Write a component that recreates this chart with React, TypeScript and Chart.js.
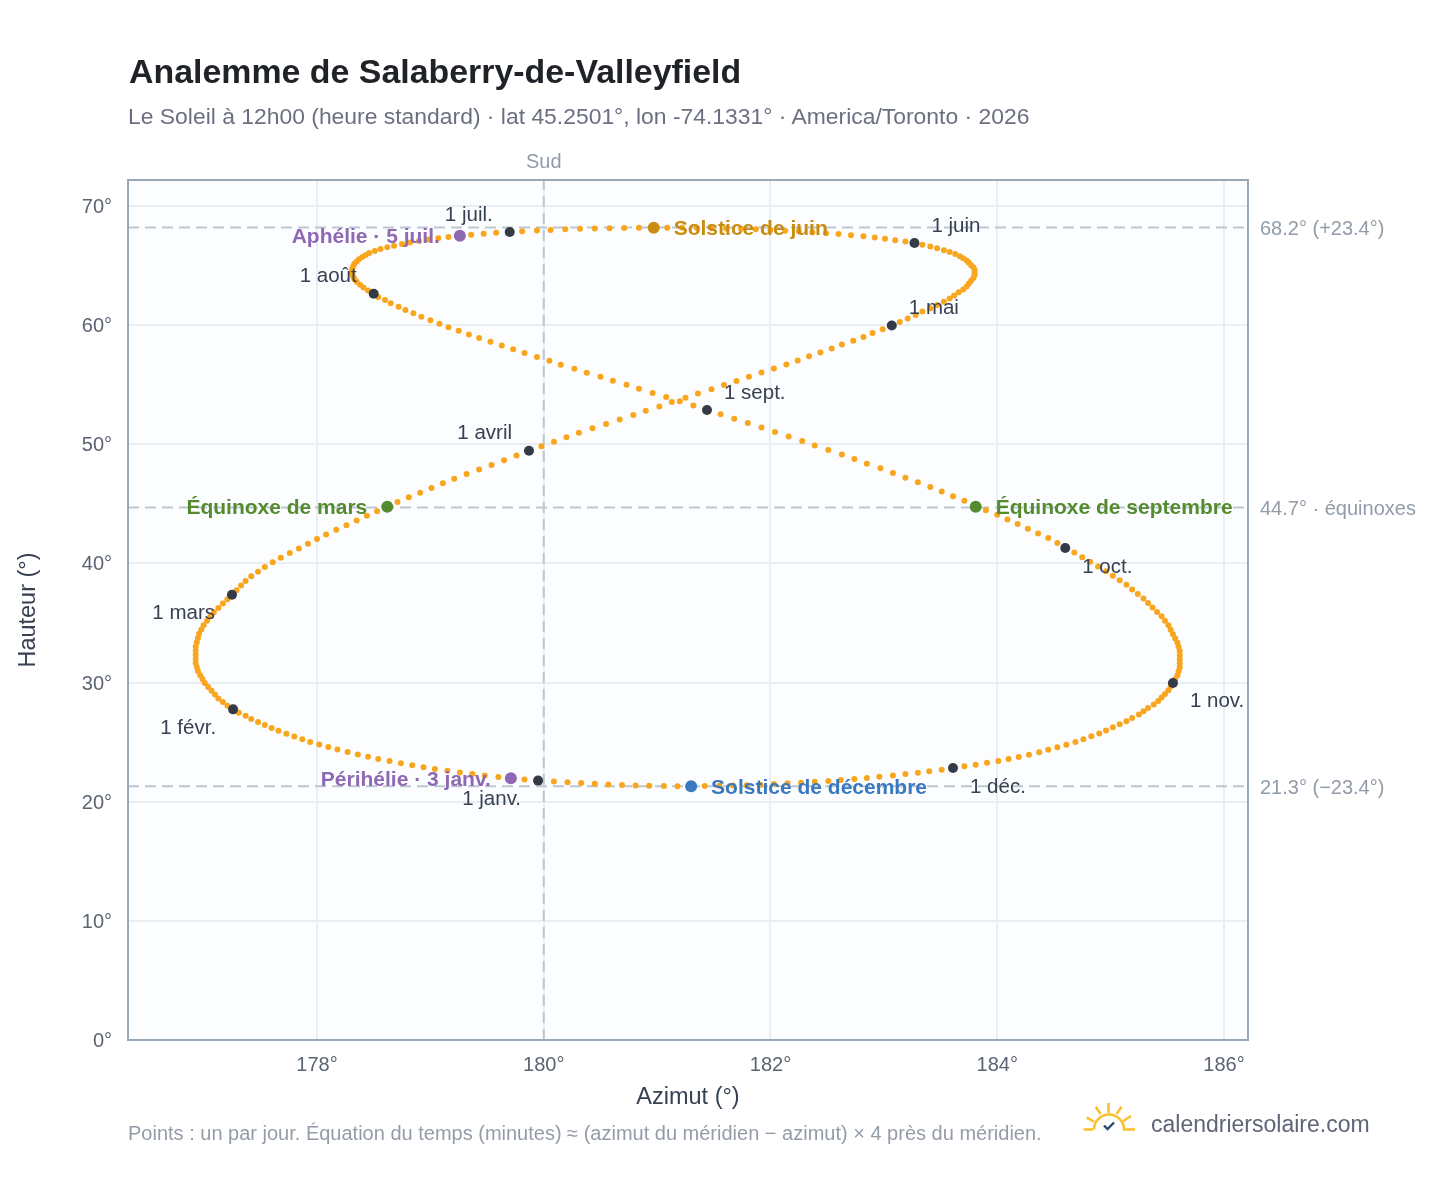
import React, { useEffect, useRef } from "react";
import { Chart, registerables } from "chart.js";

Chart.register(...registerables);

// Daily solar position at 12h00: azimuth (deg) per month
const azJan = [179.95,179.83,179.71,179.60,179.48,179.37,179.26,179.15,179.04,178.94,178.84,178.74,178.64,178.54,178.45,178.36,178.27,178.18,178.10,178.02,177.94,177.87,177.80,177.73,177.66,177.60,177.54,177.48,177.42,177.37,177.31];
const azFeb = [177.26,177.21,177.17,177.13,177.10,177.07,177.04,177.01,176.99,176.97,176.95,176.94,176.93,176.93,176.93,176.93,176.93,176.94,176.95,176.96,176.98,177.00,177.03,177.06,177.09,177.13,177.17,177.21];
const azMar = [177.25,177.29,177.33,177.37,177.42,177.48,177.54,177.61,177.68,177.76,177.84,177.92,178.00,178.08,178.17,178.26,178.35,178.44,178.53,178.62,178.71,178.81,178.91,179.01,179.11,179.21,179.32,179.43,179.54,179.65,179.76];
const azApr = [179.87,179.98,180.09,180.20,180.31,180.43,180.55,180.67,180.79,180.90,181.02,181.13,181.25,181.36,181.48,181.59,181.70,181.81,181.92,182.03,182.14,182.24,182.34,182.44,182.54,182.63,182.73,182.82,182.90,182.99];
const azMay = [183.07,183.14,183.21,183.28,183.34,183.41,183.47,183.53,183.58,183.62,183.66,183.70,183.73,183.75,183.77,183.79,183.80,183.80,183.80,183.79,183.77,183.75,183.73,183.70,183.67,183.63,183.58,183.53,183.47,183.41,183.34];
const azJun = [183.27,183.19,183.10,183.01,182.92,182.82,182.71,182.60,182.49,182.37,182.25,182.13,182.00,181.87,181.74,181.61,181.48,181.35,181.22,181.09,180.97,180.84,180.71,180.58,180.45,180.32,180.19,180.06,179.94,179.81];
const azJul = [179.70,179.58,179.47,179.36,179.26,179.16,179.07,178.98,178.90,178.82,178.75,178.68,178.62,178.56,178.51,178.46,178.43,178.40,178.37,178.35,178.33,178.32,178.31,178.31,178.31,178.32,178.33,178.35,178.38,178.41,178.45];
const azAug = [178.50,178.54,178.60,178.65,178.72,178.78,178.85,178.92,179.00,179.08,179.16,179.25,179.34,179.43,179.53,179.63,179.73,179.83,179.94,180.05,180.15,180.27,180.38,180.50,180.61,180.73,180.84,180.96,181.08,181.20,181.32];
const azSep = [181.44,181.56,181.68,181.80,181.92,182.04,182.16,182.28,182.39,182.51,182.63,182.74,182.85,182.97,183.08,183.19,183.30,183.41,183.51,183.61,183.71,183.81,183.90,184.00,184.09,184.18,184.27,184.36,184.45,184.53];
const azOct = [184.60,184.68,184.75,184.82,184.89,184.96,185.02,185.08,185.14,185.19,185.24,185.29,185.33,185.37,185.41,185.45,185.48,185.51,185.53,185.55,185.57,185.59,185.60,185.61,185.61,185.61,185.61,185.61,185.60,185.59,185.57];
const azNov = [185.55,185.53,185.51,185.48,185.45,185.42,185.38,185.33,185.29,185.25,185.19,185.14,185.08,185.02,184.96,184.90,184.83,184.76,184.69,184.61,184.53,184.45,184.37,184.28,184.19,184.10,184.01,183.91,183.81,183.71];
const azDec = [183.61,183.51,183.40,183.30,183.19,183.08,182.96,182.85,182.74,182.62,182.51,182.39,182.27,182.15,182.03,181.91,181.79,181.67,181.55,181.42,181.30,181.18,181.06,180.93,180.81,180.69,180.57,180.45,180.33,180.21,180.09];

// Altitude (deg) per month
const altJan = [21.77,21.86,21.96,22.07,22.19,22.32,22.45,22.59,22.74,22.90,23.06,23.23,23.41,23.59,23.78,23.97,24.17,24.38,24.59,24.80,25.02,25.25,25.48,25.71,25.95,26.19,26.44,26.69,26.95,27.21,27.47];
const altFeb = [27.75,28.05,28.36,28.67,28.99,29.31,29.63,29.96,30.29,30.62,30.96,31.30,31.64,31.98,32.33,32.68,33.03,33.38,33.74,34.10,34.46,34.82,35.18,35.54,35.90,36.26,36.63,37.00];
const altMar = [37.37,37.75,38.14,38.53,38.92,39.31,39.70,40.09,40.48,40.87,41.26,41.65,42.04,42.43,42.82,43.21,43.60,43.99,44.38,44.77,45.16,45.55,45.94,46.33,46.72,47.11,47.50,47.88,48.27,48.65,49.05];
const altApr = [49.45,49.83,50.21,50.59,50.97,51.34,51.71,52.08,52.45,52.82,53.18,53.54,53.90,54.26,54.62,54.97,55.32,55.67,56.02,56.36,56.70,57.04,57.38,57.71,58.04,58.37,58.69,59.01,59.33,59.65];
const altMay = [59.97,60.27,60.56,60.85,61.14,61.42,61.69,61.96,62.23,62.49,62.75,63.00,63.25,63.49,63.73,63.96,64.19,64.41,64.62,64.83,65.03,65.23,65.42,65.61,65.79,65.96,66.13,66.29,66.45,66.60,66.75];
const altJun = [66.89,67.01,67.13,67.24,67.35,67.45,67.55,67.64,67.72,67.80,67.87,67.93,67.99,68.04,68.08,68.11,68.14,68.16,68.17,68.18,68.18,68.17,68.16,68.14,68.11,68.08,68.04,67.99,67.94,67.88];
const altJul = [67.82,67.75,67.67,67.59,67.50,67.40,67.29,67.18,67.06,66.94,66.81,66.67,66.53,66.38,66.22,66.06,65.89,65.71,65.53,65.34,65.15,64.95,64.74,64.53,64.31,64.09,63.86,63.63,63.39,63.15,62.90];
const altAug = [62.63,62.37,62.10,61.83,61.55,61.27,60.99,60.70,60.41,60.12,59.82,59.52,59.22,58.91,58.60,58.29,57.97,57.65,57.33,57.00,56.67,56.34,56.01,55.67,55.33,54.99,54.65,54.31,53.96,53.61,53.26];
const altSep = [52.88,52.52,52.15,51.78,51.41,51.04,50.66,50.28,49.90,49.52,49.14,48.76,48.37,47.98,47.59,47.20,46.81,46.42,46.03,45.64,45.25,44.86,44.47,44.08,43.69,43.30,42.91,42.52,42.13,41.71];
const altOct = [41.30,40.91,40.52,40.13,39.74,39.35,38.96,38.58,38.20,37.82,37.44,37.06,36.68,36.30,35.93,35.56,35.19,34.80,34.43,34.06,33.70,33.35,33.00,32.65,32.30,31.96,31.62,31.28,30.95,30.62,30.29];
const altNov = [29.97,29.66,29.35,29.05,28.75,28.45,28.16,27.87,27.59,27.31,27.03,26.76,26.50,26.24,25.98,25.73,25.49,25.25,25.02,24.79,24.57,24.36,24.15,23.95,23.76,23.58,23.42,23.26,23.11,22.97];
const altDec = [22.83,22.69,22.56,22.44,22.32,22.21,22.10,22.00,21.91,21.82,21.74,21.67,21.60,21.54,21.48,21.43,21.39,21.35,21.33,21.31,21.30,21.30,21.31,21.33,21.36,21.40,21.45,21.50,21.56,21.63,21.70];

const azimuthMonths = [azJan, azFeb, azMar, azApr, azMay, azJun, azJul, azAug, azSep, azOct, azNov, azDec];
const altitudeMonths = [altJan, altFeb, altMar, altApr, altMay, altJun, altJul, altAug, altSep, altOct, altNov, altDec];
const monthLabels = ["1 janv.", "1 févr.", "1 mars", "1 avril", "1 mai", "1 juin", "1 juil.", "1 août", "1 sept.", "1 oct.", "1 nov.", "1 déc."];

// Remarkable days
const eventNames = ["Solstice de juin", "Solstice de décembre", "Équinoxe de mars", "Équinoxe de septembre", "Aphélie · 5 juil.", "Périhélie · 3 janv."];
const eventAzimuths = [180.97, 181.30, 178.62, 183.81, 179.26, 179.71];
const eventAltitudes = [68.18, 21.30, 44.75, 44.75, 67.50, 21.96];
const eventColors = ["#c98c10", "#3a78bf", "#558b2f", "#558b2f", "#8e68b3", "#8e68b3"];

// Reference lines
const refAltitudes = [68.2, 44.7, 21.3];
const refLabels = ["68.2° (+23.4°)", "44.7° · équinoxes", "21.3° (−23.4°)"];
const meridianAzimuth = 180;

// Axes
const xTicks = [178, 180, 182, 184, 186];
const yTicks = [0, 10, 20, 30, 40, 50, 60, 70];
const xMin = 176.333;
const xMax = 186.212;
const yMin = 0;
const yMax = 72.18;

// Label placement styles (px from mark)
const monthLabelDx = [-17, -17, -17, -17, 17, 17, -17, -17, 17, 17, 17, 17];
const monthLabelDy = [19, 19, 19, -17, -17, -17, -17, -17, -17, 19, 18, 19];
const eventLabelDx = [20, 20, -20, 20, -20, -20];

const FONT = '"Liberation Sans", Arial, sans-serif';

const overlay: any = {
  id: "overlay",
  beforeDraw(chart: any) {
    const { ctx, chartArea: a } = chart;
    ctx.save();
    ctx.fillStyle = "#fbfdff";
    ctx.fillRect(a.left, a.top, a.right - a.left, a.bottom - a.top);
    ctx.restore();
  },
  afterDatasetsDraw(chart: any) {
    const { ctx, chartArea: a, scales } = chart;
    const x = scales.x;
    const y = scales.y;
    ctx.save();
    ctx.strokeStyle = "#9aa7b4";
    ctx.lineWidth = 2;
    ctx.strokeRect(a.left, a.top, a.right - a.left, a.bottom - a.top);

    ctx.textBaseline = "middle";
    ctx.font = `20px ${FONT}`;
    ctx.fillStyle = "#5b6472";
    ctx.textAlign = "right";
    yTicks.forEach((t) => {
      ctx.fillText(`${t}°`, a.left - 16, y.getPixelForValue(t) + 1.5);
    });

    ctx.font = `20.5px ${FONT}`;
    ctx.fillStyle = "#374151";
    monthLabels.forEach((label, i) => {
      const px = x.getPixelForValue(azimuthMonths[i][0]);
      const py = y.getPixelForValue(altitudeMonths[i][0]);
      ctx.textAlign = monthLabelDx[i] < 0 ? "right" : "left";
      ctx.fillText(label, px + monthLabelDx[i], py + monthLabelDy[i]);
    });

    ctx.font = `bold 21px ${FONT}`;
    eventNames.forEach((label, i) => {
      ctx.fillStyle = eventColors[i];
      ctx.textAlign = eventLabelDx[i] < 0 ? "right" : "left";
      ctx.fillText(label, x.getPixelForValue(eventAzimuths[i]) + eventLabelDx[i], y.getPixelForValue(eventAltitudes[i]) + 1.5);
    });

    ctx.font = `20px ${FONT}`;
    ctx.fillStyle = "#929ca8";
    ctx.textAlign = "left";
    refLabels.forEach((label, i) => {
      ctx.fillText(label, a.right + 12, y.getPixelForValue(refAltitudes[i]) + 2.5);
    });
    ctx.textAlign = "center";
    ctx.fillText("Sud", x.getPixelForValue(meridianAzimuth), a.top - 18);
    ctx.restore();
  },
};

export default function App() {
  const ref = useRef<HTMLCanvasElement | null>(null);

  useEffect(() => {
    const daily = azimuthMonths.flatMap((m, i) => m.map((az, d) => ({ x: az, y: altitudeMonths[i][d] })));
    const firsts = azimuthMonths.map((m, i) => ({ x: m[0], y: altitudeMonths[i][0] }));
    const events = eventAzimuths.map((az, i) => ({ x: az, y: eventAltitudes[i] }));
    const refStyle = {
      showLine: true,
      pointRadius: 0,
      borderColor: "#bcc7d2",
      borderWidth: 2,
      borderDash: [11, 6],
      order: 10,
    };
    const chart = new Chart(ref.current as HTMLCanvasElement, {
      type: "scatter",
      data: {
        datasets: [
          ...refAltitudes.map((alt) => ({
            ...refStyle,
            data: [{ x: xMin, y: alt }, { x: xMax, y: alt }],
          })),
          { ...refStyle, data: [{ x: meridianAzimuth, y: yMin }, { x: meridianAzimuth, y: yMax }] },
          { data: daily, pointRadius: 3, pointBorderWidth: 0, backgroundColor: "#f9a61f", order: 3 },
          { data: firsts, pointRadius: 5, pointBorderWidth: 0, backgroundColor: "#343b47", order: 2 },
          { data: events, pointRadius: 6, pointBorderWidth: 0, backgroundColor: eventColors, order: 1 },
        ] as any,
      },
      options: {
        animation: false,
        responsive: false,
        devicePixelRatio: 1,
        layout: { padding: { left: 14, right: 200, top: 180, bottom: 76 } },
        plugins: { legend: { display: false }, tooltip: { enabled: false }, title: { display: false } },
        scales: {
          x: {
            type: "linear",
            min: xMin,
            max: xMax,
            afterBuildTicks: (s: any) => { s.ticks = xTicks.map((value) => ({ value })); },
            afterFit: (s: any) => { s.height = 72; },
            grid: { color: "#e9eef4", lineWidth: 2, drawTicks: false },
            border: { display: false },
            ticks: { color: "#5b6472", font: { size: 20, family: FONT }, padding: 13, maxRotation: 0, callback: (v: any) => `${v}°` },
            title: { display: true, text: "Azimut (°)", color: "#374151", font: { size: 23.5, family: FONT }, padding: 0 },
          },
          y: {
            type: "linear",
            min: yMin,
            max: yMax,
            afterBuildTicks: (s: any) => { s.ticks = yTicks.map((value) => ({ value })); },
            afterFit: (s: any) => { s.width = 114; },
            grid: { color: "#e9eef4", lineWidth: 2, drawTicks: false },
            border: { display: false },
            ticks: { display: false },
            title: { display: true, text: "Hauteur (°)", color: "#374151", font: { size: 23.5, family: FONT }, padding: 0 },
          },
        },
      },
      plugins: [overlay],
    } as any);
    return () => chart.destroy();
  }, []);

  const text = (style: any) => ({ position: "absolute", whiteSpace: "nowrap", fontFamily: FONT, lineHeight: 1, ...style });

  return (
    <div style={{ position: "absolute", left: 0, top: 0, width: 1448, height: 1188, background: "#fff", overflow: "hidden" }}>
      <canvas ref={ref} width={1448} height={1188} style={{ position: "absolute", left: 0, top: 0, width: 1448, height: 1188 }} />
      <div style={text({ left: 129, top: 55, fontSize: 33.9, fontWeight: 700, color: "#1f2328" })}>Analemme de Salaberry-de-Valleyfield</div>
      <div style={text({ left: 128, top: 105, fontSize: 22.9, color: "#6b7080" })}>Le Soleil à 12h00 (heure standard) · lat 45.2501°, lon -74.1331° · America/Toronto · 2026</div>
      <div style={text({ left: 128, top: 1123, fontSize: 20, color: "#949ca8" })}>Points : un par jour. Équation du temps (minutes) ≈ (azimut du méridien − azimut) × 4 près du méridien.</div>
      <div style={text({ left: 1151, top: 1113, fontSize: 23, color: "#5f6477" })}>calendriersolaire.com</div>
      <svg style={{ position: "absolute", left: 1080, top: 1100, width: 60, height: 36 }} viewBox="0 0 60 36" fill="none" stroke="#fbc02d" strokeWidth="2.6" strokeLinecap="butt">
        <path d="M3.5 29.5H13" />
        <path d="M43 29.5H55" />
        <path d="M14 29.5A15 15 0 0 1 44 29.5" />
        <path d="M28.5 3V13" />
        <path d="M15.7 6.7L20.7 14" />
        <path d="M41.5 6.7L36.5 14" />
        <path d="M6.7 17.7L14 21.7" />
        <path d="M51 16L43.3 21" />
        <path d="M24 25.5L27.5 29L34 22.5" stroke="#2c4a6e" strokeWidth="2.4" />
      </svg>
    </div>
  );
}
